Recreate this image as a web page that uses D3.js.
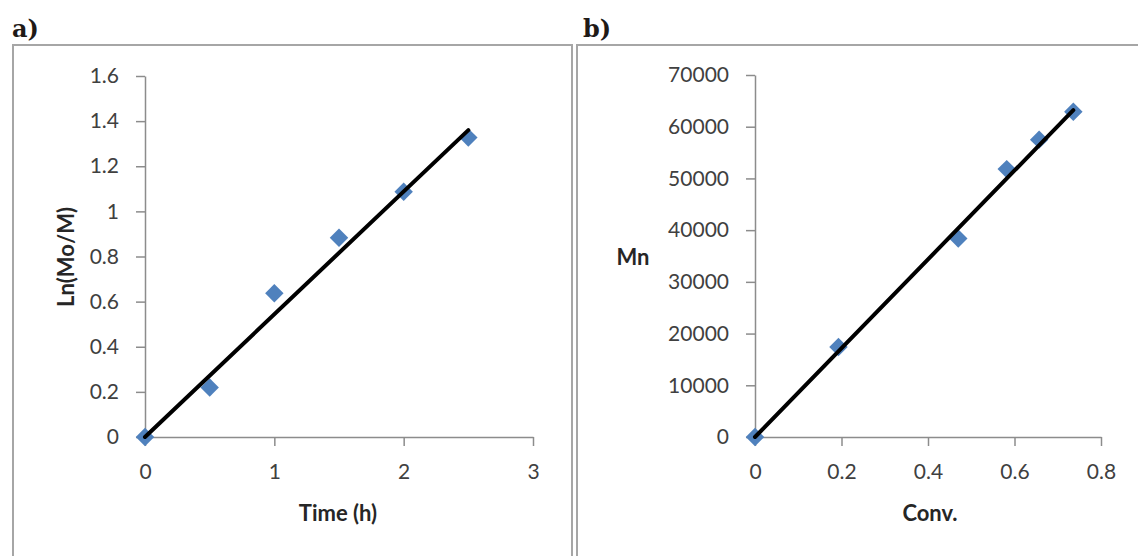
<!DOCTYPE html>
<html>
<head>
<meta charset="utf-8">
<script src="https://cdn.jsdelivr.net/npm/d3@7"></script>
<style>
  body { margin: 0; background: #fff; }
  svg { display: block; }
</style>
</head>
<body>
<div id="chart"></div>
<script>
// panel a: ln(Mo/M) vs time
const timeH = [0, 0.5, 1, 1.5, 2, 2.5];
const lnMoM = [0, 0.219, 0.637, 0.883, 1.087, 1.327];
const fitA = [[0, 0], [2.5, 1.36]];
const xTicksA = [0, 1, 2, 3];
const yTicksA = [0, 0.2, 0.4, 0.6, 0.8, 1, 1.2, 1.4, 1.6];

// panel b: Mn vs conversion
const conv = [0, 0.193, 0.47, 0.582, 0.657, 0.736];
const mn = [0, 17400, 38400, 51800, 57500, 62900];
const fitB = [[0, 0], [0.736, 63200]];
const xTicksB = [0, 0.2, 0.4, 0.6, 0.8];
const yTicksB = [0, 10000, 20000, 30000, 40000, 50000, 60000, 70000];

const width = 1138;
const height = 556;
const font = "Lato, 'Open Sans', sans-serif";
const axisColor = "#8c8c8c";
const markerColor = "#4f81bd";

const svg = d3
  .select("#chart")
  .append("svg")
  .attr("width", width)
  .attr("height", height);

const panels = [
  {
    label: "a)",
    box: { x: 13, y: 45, w: 559 },
    labelX: 12,
    xDomain: [0, 3],
    yDomain: [0, 1.6],
    xRange: [145, 533],
    yRange: [437, 76],
    xTicks: xTicksA,
    yTicks: yTicksA,
    xs: timeH,
    ys: lnMoM,
    fit: fitA,
    xTitle: "Time (h)",
    xTitleX: 338,
    yTitle: "Ln(Mo/M)",
    yTitleRotate: true,
    yTitleX: 66,
  },
  {
    label: "b)",
    box: { x: 577, y: 45, w: 600 },
    labelX: 583,
    xDomain: [0, 0.8],
    yDomain: [0, 70000],
    xRange: [755, 1101],
    yRange: [437, 75],
    xTicks: xTicksB,
    yTicks: yTicksB,
    xs: conv,
    ys: mn,
    fit: fitB,
    xTitle: "Conv.",
    xTitleX: 930,
    yTitle: "Mn",
    yTitleRotate: false,
    yTitleX: 633,
  },
];

const diamond = d3.symbol(d3.symbolSquare, 170);

panels.forEach((p) => {
  const g = svg.append("g");

  g.append("rect")
    .attr("x", p.box.x)
    .attr("y", p.box.y)
    .attr("width", p.box.w)
    .attr("height", height)
    .attr("fill", "none")
    .attr("stroke", "#a6a6a6")
    .attr("stroke-width", 2);

  g.append("text")
    .attr("x", p.labelX)
    .attr("y", 37)
    .style("font-family", "'DejaVu Serif', 'Liberation Serif', serif")
    .style("font-weight", "bold")
    .style("font-size", "24px")
    .attr("fill", "#1f1a17")
    .text(p.label);

  const xScale = d3.scaleLinear().domain(p.xDomain).range(p.xRange);
  const yScale = d3.scaleLinear().domain(p.yDomain).range(p.yRange);

  const xAxis = g
    .append("g")
    .attr("transform", `translate(0, ${p.yRange[0]})`)
    .call(
      d3.axisBottom(xScale)
        .tickValues(p.xTicks)
        .tickFormat((d) => d)
        .tickSizeInner(9)
        .tickSizeOuter(0)
        .tickPadding(18)
    );

  const yAxis = g
    .append("g")
    .attr("transform", `translate(${p.xRange[0]}, 0)`)
    .call(
      d3.axisLeft(yScale)
        .tickValues(p.yTicks)
        .tickFormat((d) => d)
        .tickSizeInner(9)
        .tickSizeOuter(0)
        .tickPadding(17)
    );

  [xAxis, yAxis].forEach((ax) => {
    ax.select(".domain").attr("stroke", axisColor).attr("stroke-width", 1.5);
    ax.selectAll(".tick line").attr("stroke", axisColor).attr("stroke-width", 1.5);
    ax.selectAll(".tick text")
      .attr("fill", "#404040")
      .style("font-family", font)
      .style("font-size", "21px");
  });

  const line = d3
    .line()
    .x((d) => xScale(d[0]))
    .y((d) => yScale(d[1]));

  g.selectAll(".pt")
    .data(p.xs.map((x, i) => [x, p.ys[i]]))
    .join("path")
    .attr("class", "pt")
    .attr("d", diamond)
    .attr("transform", (d) => `translate(${xScale(d[0])}, ${yScale(d[1])}) rotate(45)`)
    .attr("fill", markerColor);

  g.append("path")
    .attr("d", line(p.fit))
    .attr("fill", "none")
    .attr("stroke", "#000")
    .attr("stroke-width", 4)
    .attr("stroke-linecap", "round");

  const titleStyle = (t) =>
    t.style("font-family", font)
      .style("font-weight", "bold")
      .style("font-size", "22px")
      .attr("fill", "#262626")
      .attr("text-anchor", "middle");

  g.append("text")
    .attr("x", p.xTitleX)
    .attr("y", 521)
    .call(titleStyle)
    .text(p.xTitle);

  const yMid = 257;
  if (p.yTitleRotate) {
    g.append("text")
      .attr("transform", `translate(${p.yTitleX}, ${yMid}) rotate(-90)`)
      .attr("dy", "0.35em")
      .call(titleStyle)
      .text(p.yTitle);
  } else {
    g.append("text")
      .attr("x", p.yTitleX)
      .attr("y", yMid)
      .attr("dy", "0.35em")
      .call(titleStyle)
      .text(p.yTitle);
  }
});
</script>
</body>
</html>
